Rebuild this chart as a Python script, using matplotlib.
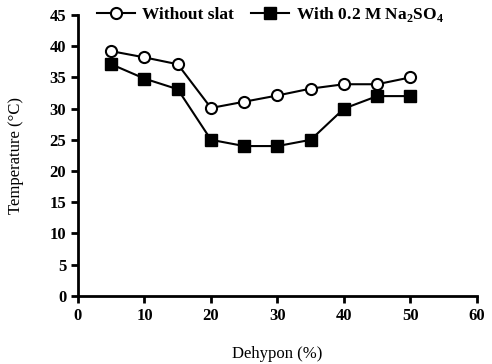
import matplotlib
matplotlib.use("Agg")
import matplotlib.pyplot as plt

dehypon = [5, 10, 15, 20, 25, 30, 35, 40, 45, 50]
sin_sal = [39.2, 38.2, 37.1, 30.1, 31.1, 32.1, 33.2, 33.9, 33.9, 35.0]
con_sal = [37.1, 34.8, 33.1, 25.0, 24.0, 24.0, 25.0, 30.0, 32.0, 32.0]

plt.rcParams['font.family'] = 'Liberation Serif'
plt.rcParams['mathtext.fontset'] = 'custom'
plt.rcParams['mathtext.rm'] = 'Liberation Serif'
plt.rcParams['mathtext.bf'] = 'Liberation Serif:bold'

fig = plt.figure(figsize=(4.92, 3.64), dpi=100)
ax = fig.add_axes([0.1585, 0.187, 0.811, 0.772])

ax.plot(dehypon, sin_sal, color='black', lw=1.5, marker='o', ms=8,
        mfc='white', mec='black', mew=1.5, label='Without slat', clip_on=False)
ax.plot(dehypon, con_sal, color='black', lw=1.5, marker='s', ms=8,
        mfc='black', mec='black', label=r'With 0.2 M Na$_{\mathbf{2}}$SO$_{\mathbf{4}}$', clip_on=False)

ax.set_xlim(0, 60)
ax.set_ylim(0, 45)
ax.set_xticks(range(0, 61, 10))
ax.set_yticks(range(0, 46, 5))
for s in ['top', 'right']:
    ax.spines[s].set_visible(False)
for s in ['left', 'bottom']:
    ax.spines[s].set_linewidth(2)
ax.tick_params(width=2, length=5, labelsize=12)
for lbl in ax.get_xticklabels() + ax.get_yticklabels():
    lbl.set_fontweight('bold')

ax.set_xlabel('Dehypon (%)', fontsize=12, labelpad=16)
ax.set_ylabel('Temperature (°C)', fontsize=12, labelpad=18)

leg = ax.legend(loc='upper left', bbox_to_anchor=(0.03, 1.06), ncol=2, frameon=False,
                prop={'weight': 'bold', 'size': 12.5}, handlelength=2.2,
                handletextpad=0.4, columnspacing=1.0, borderaxespad=0)

fig.savefig('out.png', dpi=100)
